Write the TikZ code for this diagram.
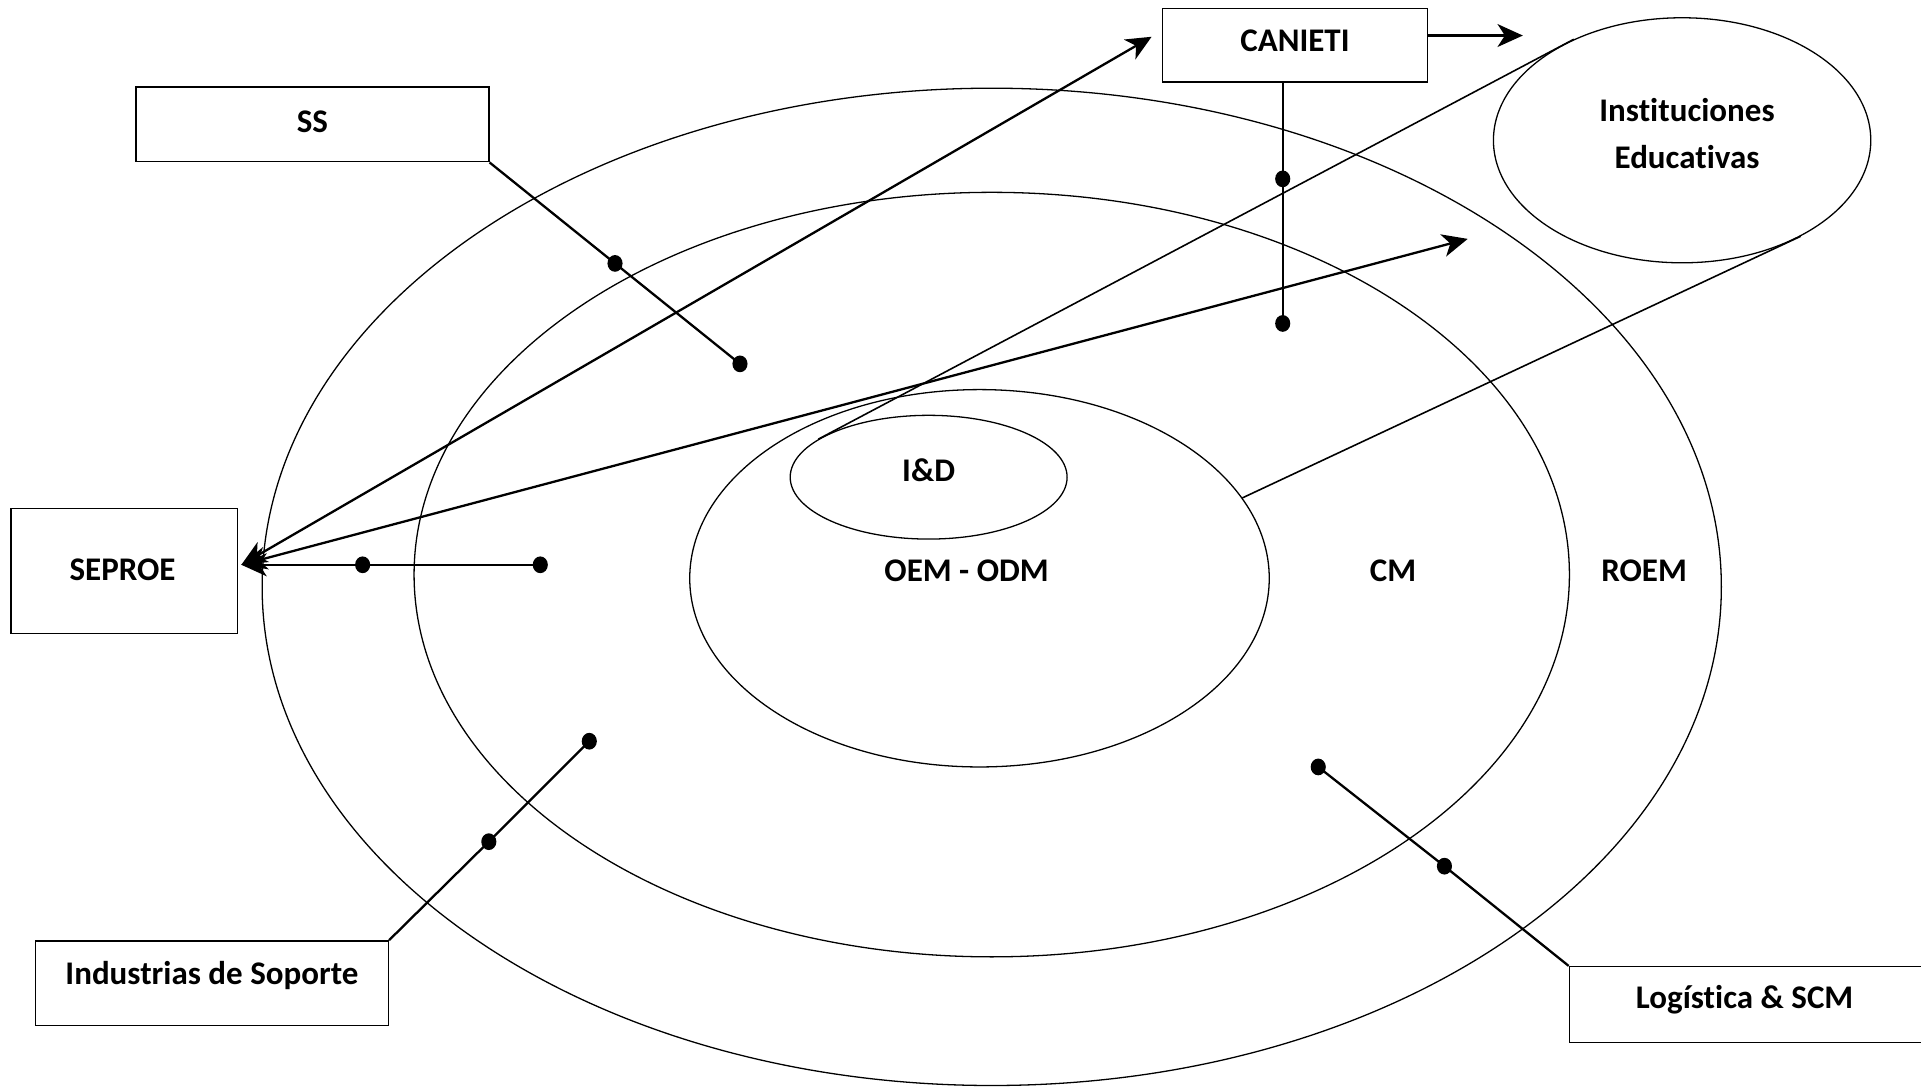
\documentclass[tikz,border=0pt]{standalone}
\usepackage{fontspec}
\setmainfont{Carlito}[Ligatures={NoCommon}]
\usetikzlibrary{arrows.meta,shapes.geometric,calc}
\begin{document}
\begin{tikzpicture}[x=0.03cm,y=-0.03cm,
 ring/.style={draw,ellipse,line width=0.9pt,inner sep=0},
 box/.style={draw,rectangle,line width=1pt,inner sep=0},
 lbl/.style={inner sep=0,font=\fontsize{23}{33}\selectfont\bfseries},
 conn/.style={line width=1.6pt},
 dot/.style={ellipse,fill,inner sep=0,minimum width=0.37cm,minimum height=0.41cm},
 arr/.style={-{Stealth[length=0.62cm,width=0.56cm,inset=0.18cm]}},
 darr/.style={{Stealth[length=0.62cm,width=0.56cm,inset=0.18cm]}-{Stealth[length=0.62cm,width=0.56cm,inset=0.18cm]}}]
\useasboundingbox (0,0) rectangle (1568,888);
% rings
\node[ring,minimum width=35.73cm,minimum height=24.42cm] (roem) at (809.5,479) {};
\node[ring,minimum width=28.29cm,minimum height=18.72cm] (cm) at (809.5,469) {};
\node[ring,minimum width=14.19cm,minimum height=9.24cm] (oem) at (799.5,472) {};
\node[ring,minimum width=6.78cm,minimum height=3.03cm] (idd) at (758,389.5) {};
\node[ring,minimum width=9.24cm,minimum height=6cm] (inst) at (1373,114.5) {};
\node[lbl,align=center] (instl) at (1377,109) {Instituciones\\Educativas};
% ring labels
\node[lbl] (iddl) at (758,384) {I\&D};
\node[lbl] (oeml) at (789,466) {OEM - ODM};
\node[lbl] (cml) at (1137,466) {CM};
\node[lbl] (roeml) at (1342,466) {ROEM};
% boxes
\node[box,minimum width=8.64cm,minimum height=1.83cm] (ss) at (255,101.5) {};
\node[box,minimum width=5.55cm,minimum height=3.06cm] (seproe) at (101.5,466) {};
\node[box,minimum width=6.48cm,minimum height=1.8cm] (canieti) at (1057,37) {};
\node[box,minimum width=8.64cm,minimum height=2.07cm] (ind) at (173,802.5) {};
\node[box,minimum width=8.82cm,minimum height=1.86cm] (log) at (1428,820) {};
\node[lbl] (ssl) at (255,99) {SS};
\node[lbl] (seproel) at (100,465) {SEPROE};
\node[lbl] (canietil) at (1057,33) {CANIETI};
\node[lbl] (indl) at (173,796) {Industrias de Soporte};
\node[lbl] (logl) at (1424,816) {Logística \& SCM};
% dots
\node[dot] (s1) at (502,215) {};
\node[dot] (s2) at (604,297) {};
\node[dot] (c1) at (1047,146) {};
\node[dot] (c2) at (1047,264) {};
\node[dot] (p1) at (296,461) {};
\node[dot] (p2) at (441,461) {};
\node[dot] (i1) at (399,687) {};
\node[dot] (i2) at (481,605) {};
\node[dot] (l1) at (1179,707) {};
\node[dot] (l2) at (1076,626) {};
% free ends
\coordinate (ca) at (940,30);
\coordinate (ia) at (1198,195);
\coordinate (cr) at (1243,29);
\coordinate (se) at (197,461);
% connectors
\draw[conn] (ss.south east) -- (s1.center) -- (s2.center);
\draw[conn] (c1.center |- canieti.south) -- (c1.center) -- (c2.center);
\draw[conn,arr] (p2.center) -- (p1.center) -- (se);
\draw[conn] (ind.north east) -- (i1.center) -- (i2.center);
\draw[conn] (log.north west) -- (l1.center) -- (l2.center);
\draw[conn,arr] (canieti.east |- cr) -- (cr);
\draw[conn,darr] (se) -- (ca);
\draw[conn,darr] (se) -- (ia);
% cone lines to Instituciones
\draw[line width=1.1pt] (idd.161) -- (inst.137);
\draw[line width=1.1pt] (oem.17) -- (inst.-39);
\end{tikzpicture}
\end{document}
